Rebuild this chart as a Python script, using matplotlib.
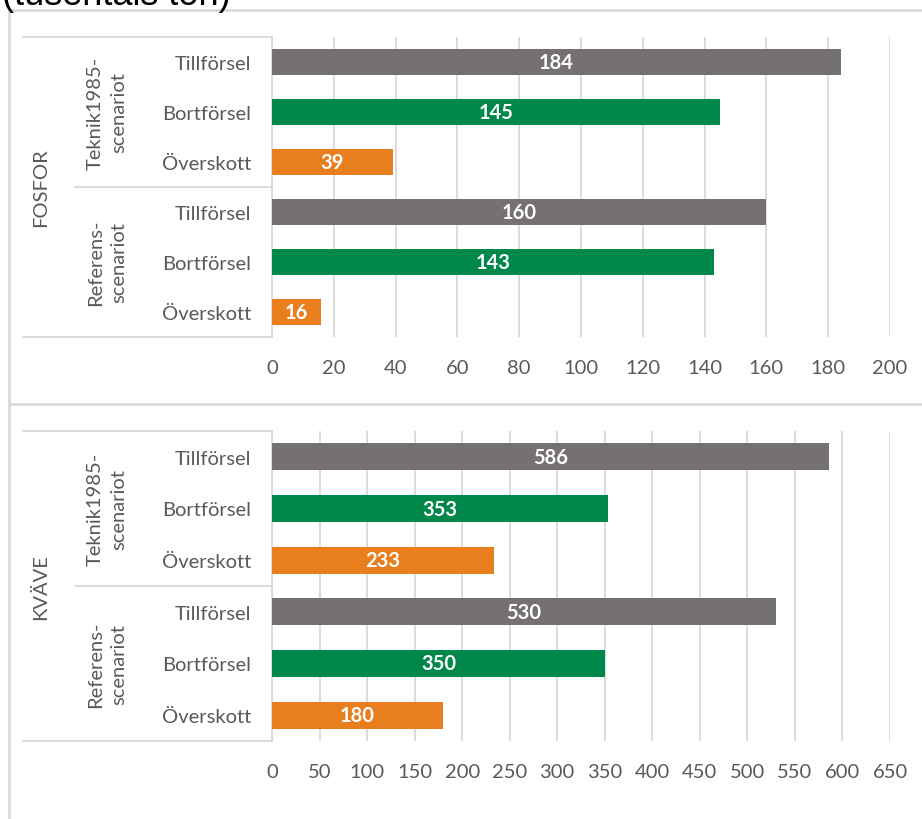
import matplotlib.pyplot as plt
from matplotlib.lines import Line2D

plt.rcParams['font.family'] = ['Lato', 'DejaVu Sans']

# data
poster = ['Tillförsel', 'Bortförsel', 'Överskott', 'Tillförsel', 'Bortförsel', 'Överskott']
scenarier = ['Teknik1985-\nscenariot', 'Referens-\nscenariot']
fosfor = [184, 145, 39, 160, 143, 16]
kvave = [586, 353, 233, 530, 350, 180]
fosfor_ticks = [0, 20, 40, 60, 80, 100, 120, 140, 160, 180, 200]
kvave_ticks = [0, 50, 100, 150, 200, 250, 300, 350, 400, 450, 500, 550, 600, 650]

farger = ['#767171', '#00874A', '#E97E1F'] * 2
grid_c = '#D9D9D9'
text_c = '#595959'
fs = 14.5

W, H = 922, 820
fig = plt.figure(figsize=(W / 100, H / 100), dpi=100)


def px_ax(left, top, right, bottom):
    return fig.add_axes([left / W, 1 - bottom / H, (right - left) / W, (bottom - top) / H])


def panel(ax, vals, ticks, amne):
    y = list(range(len(vals)))
    ax.barh(y, vals, height=0.52, color=farger, zorder=3)
    for yi, v in zip(y, vals):
        ax.text(v / 2, yi, str(v), ha='center', va='center', color='white',
                fontsize=fs, fontweight='bold', zorder=4)
    ax.set_ylim(5.5, -0.5)
    ax.set_xlim(0, ticks[-1])
    ax.set_xticks(ticks)
    ax.set_yticks(y)
    ax.set_yticklabels(poster)
    ax.tick_params(axis='y', length=0, pad=15, labelsize=fs, labelcolor=text_c)
    ax.tick_params(axis='x', length=0, pad=16, labelsize=fs, labelcolor=text_c)
    ax.grid(axis='x', color=grid_c, lw=1.3, zorder=0)
    for s in ['top', 'right', 'bottom']:
        ax.spines[s].set_visible(False)
    ax.spines['left'].set_color(grid_c)
    ax.spines['left'].set_linewidth(1.3)
    tr = ax.get_yaxis_transform()
    x_out = -0.403
    x_sep = -0.319
    for yy in [-0.5, 5.5]:
        ax.add_line(Line2D([x_out, 0], [yy, yy], transform=tr, color=grid_c, lw=1.3, clip_on=False))
    ax.add_line(Line2D([x_sep, 0], [2.5, 2.5], transform=tr, color=grid_c, lw=1.3, clip_on=False))
    ax.text(-0.267, 1, scenarier[0], transform=tr, rotation=90, ha='center', va='center',
            fontsize=fs, color=text_c, linespacing=1.4)
    ax.text(-0.267, 4, scenarier[1], transform=tr, rotation=90, ha='center', va='center',
            fontsize=fs, color=text_c, linespacing=1.4)
    ax.text(-0.375, 2.5, amne, transform=tr, rotation=90, ha='center', va='center',
            fontsize=fs, color=text_c)


ax1 = px_ax(272, 38, 890, 338)
panel(ax1, fosfor, fosfor_ticks, 'FOSFOR')
ax2 = px_ax(272, 432, 890, 742)
panel(ax2, kvave, kvave_ticks, 'KVÄVE')

# ram runt diagrammen
for xs, ys in [([9, W], [11, 11]), ([9, 9], [11, H]), ([9, W], [405, 405])]:
    fig.add_artist(Line2D([x / W for x in xs], [1 - y / H for y in ys],
                          transform=fig.transFigure, color=grid_c, lw=2))

fig.text(2 / W, 1 - 5 / H, '(tusentals ton)', fontsize=26, color='black',
         family='Liberation Sans', va='baseline', ha='left')

fig.savefig('out.png', dpi=100)
